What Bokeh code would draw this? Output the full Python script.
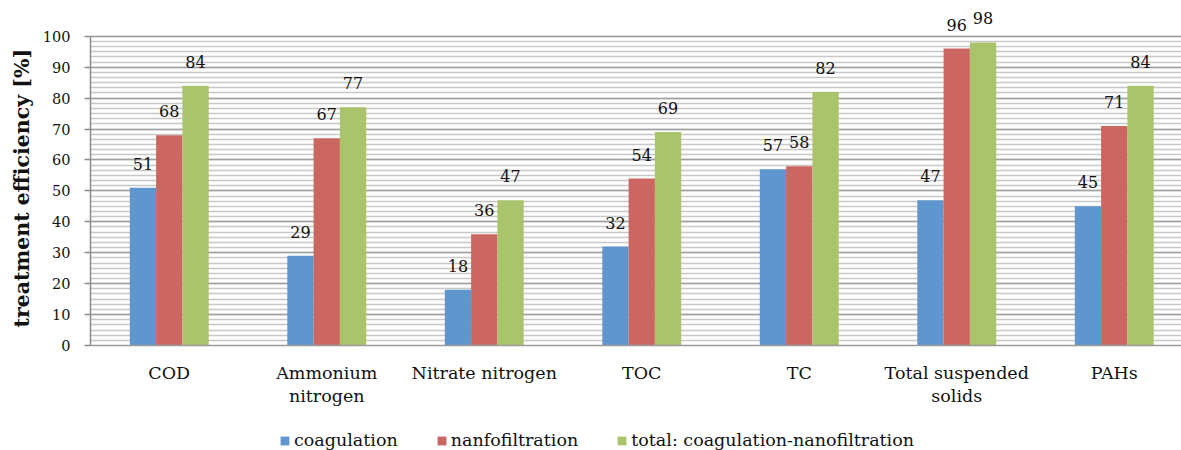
from bokeh.plotting import figure
from bokeh.layouts import column
from bokeh.models import (Range1d, FixedTicker, SingleIntervalTicker, Legend, LegendItem,
                          ColumnDataSource, Title)
from bokeh.core.properties import value
from bokeh.embed import file_html
from bokeh.resources import INLINE

# ---- data ----
categories = ["COD", "Ammonium\nnitrogen", "Nitrate nitrogen", "TOC", "TC",
              "Total suspended\nsolids", "PAHs"]
coagulation = [51, 29, 18, 32, 57, 47, 45]
nanofiltration = [68, 67, 36, 54, 58, 96, 71]
total = [84, 77, 47, 69, 82, 98, 84]
series_names = ["coagulation", "nanfofiltration", "total: coagulation-nanofiltration"]
colors = ["#5f96cd", "#cc6661", "#a9c46b"]
y_label = "treatment efficiency [%]"

FONT = "DejaVu Serif"
TXT = "#111111"

p = figure(width=1181, height=425, output_backend="svg", toolbar_location=None,
           x_range=Range1d(0, 6.927), y_range=Range1d(0, 108),
           min_border_left=90, min_border_right=0, min_border_top=11,
           min_border_bottom=80)
p.outline_line_color = None
p.background_fill_color = "white"

centers = [i + 0.5 for i in range(len(categories))]
bw = 0.167
offsets = [-bw, 0.0, bw]
renderers = []
for vals, off, col in zip([coagulation, nanofiltration, total], offsets, colors):
    src = ColumnDataSource(dict(x=[c + off for c in centers], top=vals,
                                lab=[str(v) for v in vals]))
    r = p.vbar(x="x", top="top", bottom=0, width=bw, source=src,
               fill_color=col, line_color=None)
    renderers.append(r)
    p.text(x="x", y="top", text="lab", source=src, text_align="center",
           text_baseline="alphabetic", y_offset=-24, text_font=value(FONT),
           text_font_size="16px", text_color=TXT)

# x axis
xa = p.xaxis[0]
xa.ticker = FixedTicker(ticks=centers)
xa.major_label_overrides = {c: lab for c, lab in zip(centers, categories)}
xa.major_tick_line_color = None
xa.minor_tick_line_color = None
xa.axis_line_color = "#9a9a9a"
xa.axis_line_width = 1.5
xa.major_label_standoff = 11
xa.major_label_text_font = FONT
xa.major_label_text_font_size = "17.5px"
xa.major_label_text_line_height = 1.15
xa.major_label_text_color = TXT
p.xgrid.grid_line_color = None

# y axis
ya = p.yaxis[0]
ya.ticker = SingleIntervalTicker(interval=10, num_minor_ticks=6)
ya.bounds = (0, 100)
ya.axis_line_color = "#8c8c8c"
ya.axis_line_width = 1.5
ya.major_tick_line_color = "#8c8c8c"
ya.major_tick_line_width = 1.5
ya.major_tick_out = 6
ya.major_tick_in = 0
ya.minor_tick_line_color = None
ya.major_label_standoff = 14
ya.major_label_text_font = FONT
ya.major_label_text_font_size = "14.5px"
ya.major_label_text_color = TXT

p.add_layout(Title(text=y_label, align="left", offset=18, standoff=12,
                   text_font=FONT, text_font_style="bold",
                   text_font_size="20.5px", text_line_height=1.0,
                   text_color=TXT), "left")

p.ygrid.bounds = (0, 100)
p.ygrid.grid_line_color = "#a0a0a0"
p.ygrid.grid_line_width = 1.5
p.ygrid.minor_grid_line_color = "#c8c8c8"
p.ygrid.minor_grid_line_width = 1.5

# legend strip below the chart (frames of the column are aligned)
lg = figure(width=1181, height=25, output_backend="svg", toolbar_location=None,
            x_range=Range1d(0, 1), y_range=Range1d(0, 1),
            min_border_left=0, min_border_right=0, min_border_top=0, min_border_bottom=0,
            x_axis_type=None, y_axis_type=None)
lg.outline_line_color = None
lg.grid.visible = False
lg_items = []
for name, col in zip(series_names, colors):
    rr = lg.vbar(x=[0], top=[0], bottom=[0], width=0, fill_color=col, line_color=None)
    lg_items.append(LegendItem(label=name, renderers=[rr]))
legend = Legend(items=lg_items, orientation="horizontal", location=(189, 0),
                glyph_width=11, glyph_height=11, label_standoff=4, spacing=38,
                padding=0, margin=0, border_line_color=None, background_fill_alpha=0,
                label_height=20, label_text_font=FONT, label_text_font_size="17.5px",
                label_text_color=TXT)
lg.add_layout(legend)

layout = column(p, lg, spacing=0)
open("out.html", "w").write(file_html(layout, INLINE))
